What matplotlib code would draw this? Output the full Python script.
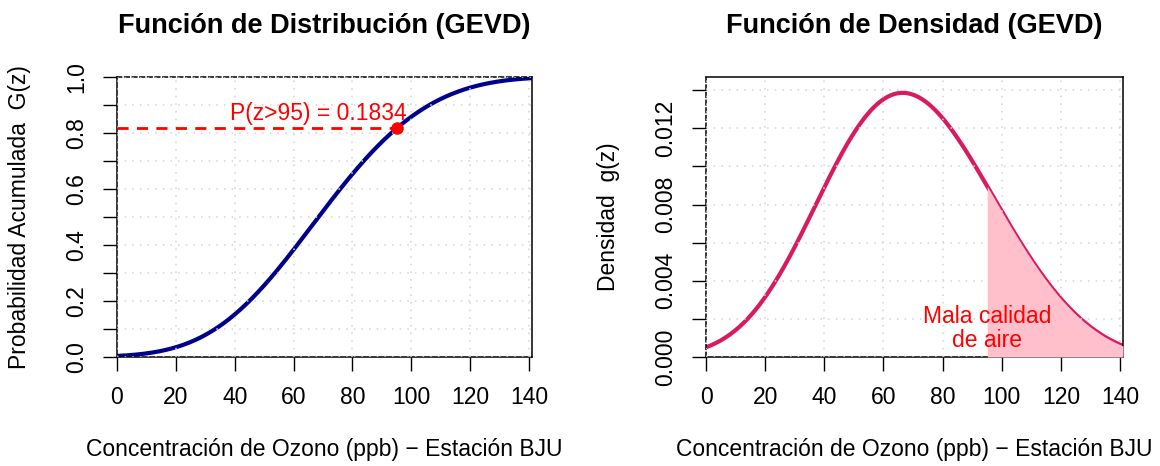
import matplotlib
matplotlib.use("Agg")
import matplotlib.pyplot as plt
import numpy as np

plt.rcParams['font.family'] = ['Liberation Sans', 'DejaVu Sans']

# parametros GEV ajustados (ozono, estacion BJU)
mu = 58.85
sigma = 27.47
xi = -0.25

z_min = 0
z_max = 141
umbral = 95
p_excede = 0.1834

x_ticks = [0, 20, 40, 60, 80, 100, 120, 140]
cdf_ticks = [0.0, 0.1, 0.2, 0.3, 0.4, 0.5, 0.6, 0.7, 0.8, 0.9, 1.0]
cdf_labels = ['0.0', '', '0.2', '', '0.4', '', '0.6', '', '0.8', '', '1.0']
pdf_ticks = [0.0, 0.002, 0.004, 0.006, 0.008, 0.010, 0.012, 0.014]
pdf_labels = ['0.000', '', '0.004', '', '0.008', '', '0.012', '']

xlabel = 'Concentración de Ozono (ppb) \u2212 Estación BJU'


def gev_t(z):
    return (1 + xi * (z - mu) / sigma) ** (-1 / xi)


def gev_cdf(z):
    return np.exp(-gev_t(z))


def gev_pdf(z):
    t = gev_t(z)
    return t ** (xi + 1) * np.exp(-t) / sigma


z = np.linspace(z_min, z_max, 600)
G = gev_cdf(z)
g = gev_pdf(z)

fig = plt.figure(figsize=(11.6, 4.66), dpi=100)
ax1 = fig.add_axes([117 / 1160, 109 / 466, 415 / 1160, 280 / 466])
ax2 = fig.add_axes([706 / 1160, 109 / 466, 417 / 1160, 280 / 466])

fs = 16.5
fs_title = 19.5


def style(ax, yt, yl, ylabel):
    ax.set_xticks(x_ticks)
    ax.set_yticks(yt, yl)
    ax.tick_params(length=10, width=1, labelsize=fs, pad=11, color='black')
    for lab in ax.get_yticklabels():
        lab.set_rotation(90)
        lab.set_va('center')
    for s in ax.spines.values():
        s.set_linewidth(1.1)
    ax.grid(True, color='#D3D3D3', linestyle=(0, (1, 4)), linewidth=1.1, zorder=2.5)
    ax.set_axisbelow(False)
    ax.set_xlabel(xlabel, fontsize=fs, labelpad=21)
    ax.set_ylabel(ylabel, fontsize=fs)
    ax.yaxis.label.set_va('center')
    ax.yaxis.set_label_coords(-(ax.get_position().x0 * 1160 - (20 if ax is ax1 else 608)) / (ax.get_position().width * 1160), 0.5)


# funcion de distribucion
ax1.plot(z, G, color='#00008B', linewidth=3, zorder=2)
ax1.plot([z_min, umbral], [1 - p_excede, 1 - p_excede], color='red',
         linewidth=2, linestyle=(0, (4, 3)), zorder=3)
ax1.plot(umbral, 1 - p_excede, 'o', color='red', markersize=8, zorder=4)
ax1.text(68.3, 0.868, 'P(z>95) = %.4f' % p_excede, color='red', fontsize=fs,
         ha='center', va='center', zorder=4)
ax1.set_xlim(z_min, z_max)
ax1.set_ylim(0, 1)
style(ax1, cdf_ticks, cdf_labels, 'Probabilidad Acumulada  G(z)')
ax1.spines['top'].set_linestyle((0, (3, 2)))
ax1.set_title('Función de Distribución (GEVD)', fontsize=fs_title, fontweight='bold', pad=32)

# funcion de densidad
ax2.plot(z, g, color='#D81B60', linewidth=3, zorder=2)
cola = z >= umbral
ax2.fill_between(z[cola], 0, g[cola], color='#FFC0CB', linewidth=0, zorder=3)
ax2.text(umbral, 0.0015, 'Mala calidad\nde aire', color='red', fontsize=fs,
         ha='center', va='center', linespacing=1.05, zorder=4)
ax2.set_xlim(z_min, z_max)
ax2.set_ylim(0, g.max() * 1.06)
style(ax2, pdf_ticks, pdf_labels, 'Densidad  g(z)')
ax2.spines['left'].set_linestyle((0, (3, 2)))
ax2.set_title('Función de Densidad (GEVD)', fontsize=fs_title, fontweight='bold', pad=32)

fig.savefig('out.png', dpi=100)
